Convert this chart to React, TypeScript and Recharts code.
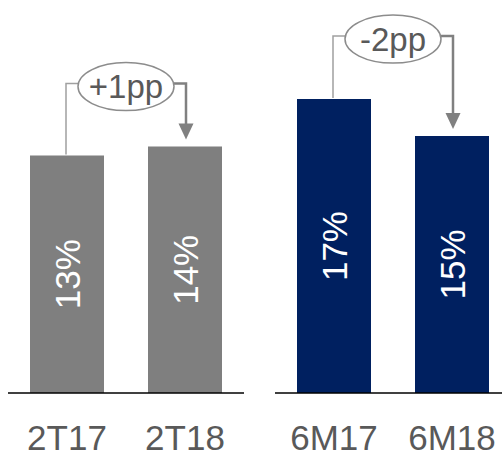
import { Bar, BarChart, LabelList, XAxis, YAxis } from "recharts"

const leftCategories = ["2T17", "2T18"]
const leftValues = [13.5, 14.0]
const leftLabels = ["13%", "14%"]

const rightCategories = ["6M17", "6M18"]
const rightValues = [16.7, 14.6]
const rightLabels = ["17%", "15%"]

const deltaLabels = ["+1pp", "-2pp"]

const FONT = "'Liberation Sans', Arial, sans-serif"

type Pos = { cx: number; top: number }

function makeLabel(labels: string[], delta: string) {
  const seen: Pos[] = []
  return (props: any) => {
    const { x, y, width, height, index } = props
    const cx = Number(x) + Number(width) / 2
    const top = Number(y)
    const mid = top + Number(height) / 2
    seen[index] = { cx, top }
    const text = (
      <text
        key="t"
        x={cx}
        y={mid}
        transform={`rotate(-90 ${cx} ${mid})`}
        textAnchor="middle"
        dy="0.36em"
        fill="#fff"
        fontSize={35}
        fontFamily={FONT}
      >
        {labels[index]}
      </text>
    )
    if (index !== 1 || !seen[0]) return <g>{text}</g>
    const a = seen[0]
    const b = { cx, top }
    const level = Math.min(a.top, b.top) - 63
    const ex = (a.cx + b.cx) / 2
    const ey = level + 3
    const rx = 48
    const ry = 24
    const tip = b.top - 7
    return (
      <g>
        {text}
        <polyline
          points={`${a.cx - 1},${a.top - 1} ${a.cx - 1},${level} ${ex - rx},${level}`}
          fill="none"
          stroke="#a0a0a0"
          strokeWidth={1.5}
        />
        <polyline
          points={`${ex + rx},${level} ${b.cx + 1},${level} ${b.cx + 1},${tip - 15}`}
          fill="none"
          stroke="#808080"
          strokeWidth={2.5}
        />
        <polygon
          points={`${b.cx - 6.5},${tip - 16} ${b.cx + 8.5},${tip - 16} ${b.cx + 1},${tip}`}
          fill="#808080"
        />
        <ellipse cx={ex} cy={ey} rx={rx} ry={ry} fill="#fff" stroke="#8c8c8c" strokeWidth={1.5} />
        <text
          x={ex}
          y={ey}
          dy="0.36em"
          textAnchor="middle"
          fill="#595959"
          fontSize={33}
          fontFamily={FONT}
        >
          {delta}
        </text>
      </g>
    )
  }
}

function Panel({
  categories,
  values,
  labels,
  color,
  delta,
  width,
}: {
  categories: string[]
  values: number[]
  labels: string[]
  color: string
  delta: string
  width: number
}) {
  const data = categories.map((name, i) => ({ name, value: values[i] }))
  return (
    <BarChart
      width={width}
      height={457}
      data={data}
      margin={{ top: 41, right: 8, bottom: 0, left: 8 }}
      style={{ fontFamily: FONT }}
    >
      <YAxis hide domain={[0, 20]} />
      <XAxis
        dataKey="name"
        interval={0}
        height={64}
        tickLine={false}
        tickSize={0}
        tickMargin={32}
        axisLine={{ stroke: "#000", strokeWidth: 1.5 }}
        tick={{ fontSize: 35, fill: "#595959", fontFamily: FONT }}
      />
      <Bar dataKey="value" fill={color} barSize={74} isAnimationActive={false}>
        <LabelList dataKey="value" content={makeLabel(labels, delta)} />
      </Bar>
    </BarChart>
  )
}

export default function App() {
  return (
    <div style={{ position: "fixed", left: 0, top: 0, width: 502, height: 457, background: "#fff" }}>
      <div style={{ position: "absolute", left: 0, top: 0, width: 252, height: 457 }}>
        <Panel
          categories={leftCategories}
          values={leftValues}
          labels={leftLabels}
          color="#7f7f7f"
          delta={deltaLabels[0]}
          width={252}
        />
      </div>
      <div
        style={{ position: "absolute", left: 267, top: 0, width: 235, height: 457, overflow: "hidden" }}
      >
        <Panel
          categories={rightCategories}
          values={rightValues}
          labels={rightLabels}
          color="#002060"
          delta={deltaLabels[1]}
          width={252}
        />
      </div>
    </div>
  )
}
